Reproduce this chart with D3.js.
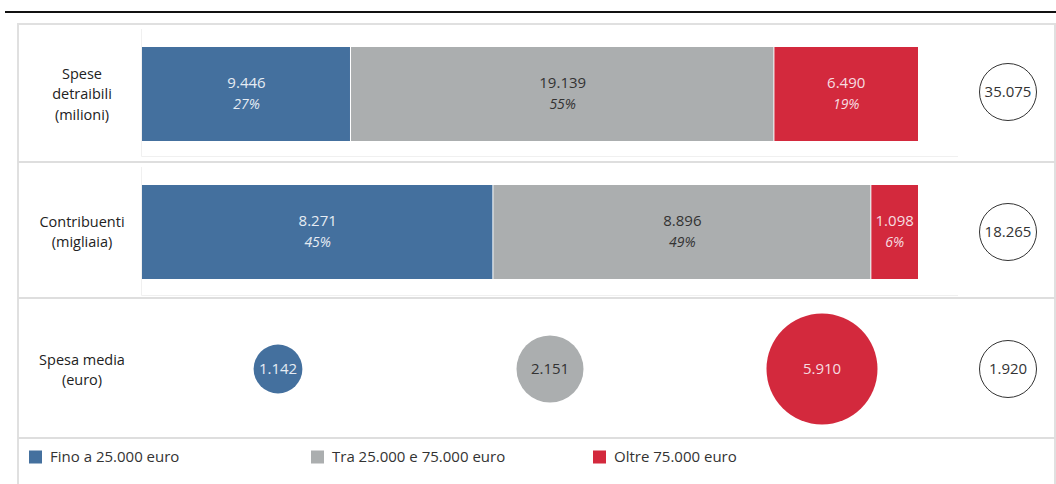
<!doctype html>
<meta charset=utf8>
<title>Spese detraibili per fascia di reddito</title>
<style>
  html, body { margin: 0; background: white; }
  svg { display: block; font-family: "Open Sans", sans-serif; }
  text { fill: #333; }
</style>
<svg width=1056 height=484></svg>
<script src=https://d3js.org/d3.v7.min.js></script>
<script>
  // fasce di reddito
  var categories = ['Fino a 25.000 euro', 'Tra 25.000 e 75.000 euro', 'Oltre 75.000 euro'];
  var rowLabels = [['Spese', 'detraibili', '(milioni)'], ['Contribuenti', '(migliaia)'], ['Spesa media', '(euro)']];
  var spese = [9446, 19139, 6490];          // milioni
  var contribuenti = [8271, 8896, 1098];    // migliaia
  var spesaMedia = [1142, 2151, 5910];      // euro
  var spesaMediaTotale = 1920;

  var colors = ['#44709e', '#abaeaf', '#d3293d'];
  var textColors = ['#e6ecf3', '#333333', '#f6dde0'];

  var it = d3.formatLocale({decimal: ',', thousands: '.', grouping: [3], currency: ['', ' €']});
  var fmt = it.format(',d');

  var svg = d3.select('svg');

  // rows: bar extent and faint plot-area box
  var rows = [
    {bar: [47, 141], inner: [29, 156]},
    {bar: [185, 279], inner: [167, 295]}
  ];

  // black rule at top
  svg.append('line')
    .attr('x1', 5).attr('x2', 1056).attr('y1', 12).attr('y2', 12)
    .attr('stroke', '#111').attr('stroke-width', 2);

  // panel frame
  svg.append('path')
    .attr('d', 'M18,490V24H1055V490')
    .attr('fill', 'none').attr('stroke', '#e0e0e0').attr('stroke-width', 2);

  [162, 298, 438].forEach(function(y) {
    svg.append('line')
      .attr('x1', 18).attr('x2', 1055).attr('y1', y).attr('y2', y)
      .attr('stroke', '#dedede').attr('stroke-width', 2);
  });

  // faint plot-area lines behind the bars
  rows.forEach(function(r) {
    svg.append('path')
      .attr('d', 'M141.5,' + r.inner[0] + 'V' + r.inner[1] + '.5H958')
      .attr('fill', 'none').attr('stroke', '#f0f0f0').attr('stroke-width', 1);
  });

  // row labels
  var labelCenters = [94, 232, 370];
  rowLabels.forEach(function(lines, i) {
    var t = svg.append('text')
      .attr('x', 82)
      .attr('text-anchor', 'middle')
      .attr('font-size', 14.5)
      .style('fill', '#222');
    var lh = 20.5;
    var y0 = labelCenters[i] - (lines.length - 1) * lh / 2;
    lines.forEach(function(line, j) {
      t.append('tspan').attr('x', 82).attr('y', y0 + j * lh).attr('dy', '0.35em').text(line);
    });
  });

  // stacked 100% bars
  var x = d3.scaleLinear().domain([0, 1]).range([142, 918]);

  function stackBar(values, r) {
    var total = d3.sum(values);
    var cum = 0;
    var parts = values.map(function(v, i) {
      var p = {v: v, i: i, x0: cum / total, x1: (cum + v) / total, pct: Math.round(v / total * 100)};
      cum += v;
      return p;
    });
    var g = svg.append('g');
    g.selectAll('rect').data(parts).enter().append('rect')
      .attr('x', function(d) { return x(d.x0); })
      .attr('width', function(d) { return x(d.x1) - x(d.x0) - (d.i < 2 ? 1 : 0); })
      .attr('y', r.bar[0])
      .attr('height', r.bar[1] - r.bar[0])
      .attr('fill', function(d) { return colors[d.i]; });
    var cy = (r.bar[0] + r.bar[1]) / 2;
    g.selectAll('text.v').data(parts).enter().append('text')
      .attr('x', function(d) { return (x(d.x0) + x(d.x1)) / 2; })
      .attr('y', cy - 11)
      .attr('dy', '0.35em')
      .attr('text-anchor', 'middle')
      .attr('font-size', 15)
      .style('fill', function(d) { return textColors[d.i]; })
      .text(function(d) { return fmt(d.v); });
    g.selectAll('text.p').data(parts).enter().append('text')
      .attr('x', function(d) { return (x(d.x0) + x(d.x1)) / 2; })
      .attr('y', cy + 10)
      .attr('dy', '0.35em')
      .attr('text-anchor', 'middle')
      .attr('font-size', 14)
      .attr('font-style', 'italic')
      .style('fill', function(d) { return textColors[d.i]; })
      .text(function(d) { return d.pct + '%'; });
    return total;
  }

  var totals = [stackBar(spese, rows[0]), stackBar(contribuenti, rows[1]), spesaMediaTotale];

  // bubbles for average spending
  var bx = d3.scaleBand().domain(categories).range([142, 958]);
  var br = d3.scaleSqrt().domain([0, d3.max(spesaMedia)]).range([0, 55.5]);
  var bubbleY = 369;
  var bubbles = svg.append('g');
  bubbles.selectAll('circle').data(spesaMedia).enter().append('circle')
    .attr('cx', function(d, i) { return bx(categories[i]) + bx.bandwidth() / 2; })
    .attr('cy', bubbleY)
    .attr('r', function(d) { return br(d); })
    .attr('fill', function(d, i) { return colors[i]; });
  bubbles.selectAll('text').data(spesaMedia).enter().append('text')
    .attr('x', function(d, i) { return bx(categories[i]) + bx.bandwidth() / 2; })
    .attr('y', bubbleY)
    .attr('dy', '0.35em')
    .attr('text-anchor', 'middle')
    .attr('font-size', 15)
    .style('fill', function(d, i) { return textColors[i]; })
    .text(fmt);

  // totals column
  var totalY = [92, 232, 369];
  var tot = svg.append('g');
  tot.selectAll('circle').data(totals).enter().append('circle')
    .attr('cx', 1008)
    .attr('cy', function(d, i) { return totalY[i]; })
    .attr('r', 28.5)
    .attr('fill', 'white')
    .attr('stroke', '#333')
    .attr('stroke-width', 1);
  tot.selectAll('text').data(totals).enter().append('text')
    .attr('x', 1008)
    .attr('y', function(d, i) { return totalY[i]; })
    .attr('dy', '0.35em')
    .attr('text-anchor', 'middle')
    .attr('font-size', 15)
    .text(fmt);

  // legend
  var legendX = [29, 311, 593];
  var legend = svg.append('g').selectAll('g').data(categories).enter().append('g')
    .attr('transform', function(d, i) { return 'translate(' + legendX[i] + ',457)'; });
  legend.append('rect')
    .attr('x', 0).attr('y', -6.5).attr('width', 13).attr('height', 13)
    .attr('fill', function(d, i) { return colors[i]; });
  legend.append('text')
    .attr('x', 21)
    .attr('dy', '0.35em')
    .attr('font-size', 15)
    .style('fill', '#333')
    .text(function(d) { return d; });
</script>
